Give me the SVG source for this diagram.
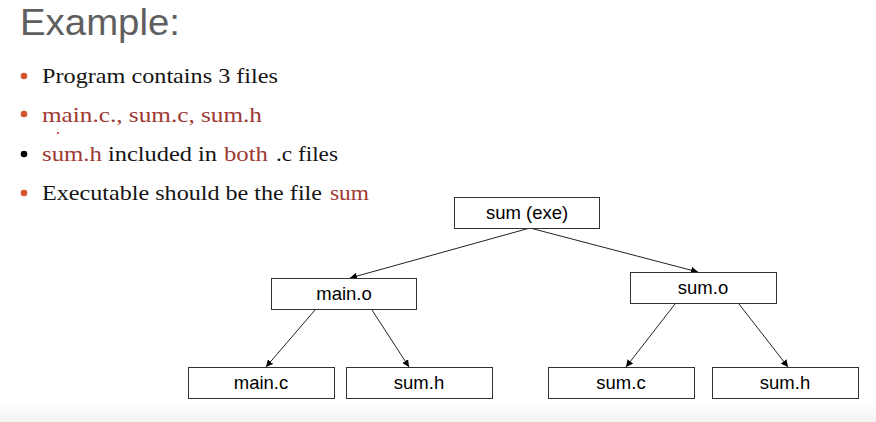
<svg xmlns="http://www.w3.org/2000/svg" width="876" height="422" viewBox="0 0 876 422">
<defs>
<linearGradient id="bottomFade" x1="0" y1="0" x2="0" y2="1">
<stop offset="0" stop-color="#ffffff"/>
<stop offset="1" stop-color="#f3f3f3"/>
</linearGradient>
<marker id="arr" viewBox="0 0 10 10" refX="10" refY="5" markerWidth="7" markerHeight="7" orient="auto" markerUnits="userSpaceOnUse">
<path d="M0,0 L10,5 L0,10 z" fill="#000"/>
</marker>
</defs>
<style>
.title{font-family:"Liberation Sans","Open Sans",sans-serif;font-size:37px;fill:#5f5f5f}
.b{font-family:"Liberation Serif","DejaVu Serif",serif;font-size:21px;fill:#141414}
.r{fill:#9e3a34}
.dot{fill:#d2552f}
.box{fill:#fff;stroke:#333;stroke-width:1}
.lbl{font-family:"Liberation Sans",Arial,sans-serif;font-size:18.5px;fill:#000;text-anchor:middle}
.edge{stroke:#222;stroke-width:1;fill:none;marker-end:url(#arr)}
</style>
<rect x="0" y="0" width="876" height="422" fill="#fff"/>
<rect x="0" y="402" width="876" height="20" fill="url(#bottomFade)"/>
<text class="title" x="20" y="35" textLength="160" lengthAdjust="spacingAndGlyphs">Example:</text>
<circle class="dot" cx="24" cy="76" r="3.3"/>
<circle class="dot" cx="24" cy="114" r="3.3"/>
<circle cx="24" cy="154" r="3.3" fill="#000"/>
<circle class="dot" cx="24" cy="193" r="3.3"/>
<circle cx="58" cy="133" r="1" fill="#e01010"/>
<text class="b" x="42" y="83" textLength="236" lengthAdjust="spacingAndGlyphs">Program contains 3 files</text>
<text class="b r" x="42" y="122" textLength="220" lengthAdjust="spacingAndGlyphs">main.c., sum.c, sum.h</text>
<text class="b" y="161"><tspan class="r" x="42" textLength="60" lengthAdjust="spacingAndGlyphs">sum.h</tspan><tspan x="108" textLength="109" lengthAdjust="spacingAndGlyphs">included in</tspan><tspan class="r" x="224" textLength="44" lengthAdjust="spacingAndGlyphs">both</tspan><tspan x="276" textLength="62" lengthAdjust="spacingAndGlyphs">.c files</tspan></text>
<text class="b" y="200"><tspan x="42" textLength="280" lengthAdjust="spacingAndGlyphs">Executable should be the file</tspan><tspan class="r" x="330" textLength="39" lengthAdjust="spacingAndGlyphs">sum</tspan></text>
<g id="connectors">
<line class="edge" x1="530" y1="228" x2="350" y2="278"/>
<line class="edge" x1="530" y1="228" x2="698" y2="272"/>
<line class="edge" x1="315" y1="310" x2="266" y2="367"/>
<line class="edge" x1="372" y1="310" x2="409" y2="367"/>
<line class="edge" x1="675" y1="304" x2="626" y2="367"/>
<line class="edge" x1="739" y1="304" x2="788" y2="367"/>
</g>
<g id="sum_exe"><rect class="box" x="454.5" y="197.5" width="145" height="31"/><text class="lbl" x="527" y="219">sum (exe)</text></g>
<g id="main_o"><rect class="box" x="271.5" y="278.5" width="145" height="31"/><text class="lbl" x="344" y="300">main.o</text></g>
<g id="sum_o"><rect class="box" x="630.5" y="272.5" width="146" height="31"/><text class="lbl" x="703" y="294">sum.o</text></g>
<g id="main_c"><rect class="box" x="188.5" y="367.5" width="146" height="31"/><text class="lbl" x="261" y="389">main.c</text></g>
<g id="sum_h_1"><rect class="box" x="346.5" y="367.5" width="146" height="31"/><text class="lbl" x="419" y="389">sum.h</text></g>
<g id="sum_c"><rect class="box" x="548.5" y="367.5" width="146" height="31"/><text class="lbl" x="621" y="389">sum.c</text></g>
<g id="sum_h_2"><rect class="box" x="712.5" y="367.5" width="146" height="31"/><text class="lbl" x="785" y="389">sum.h</text></g>
</svg>
